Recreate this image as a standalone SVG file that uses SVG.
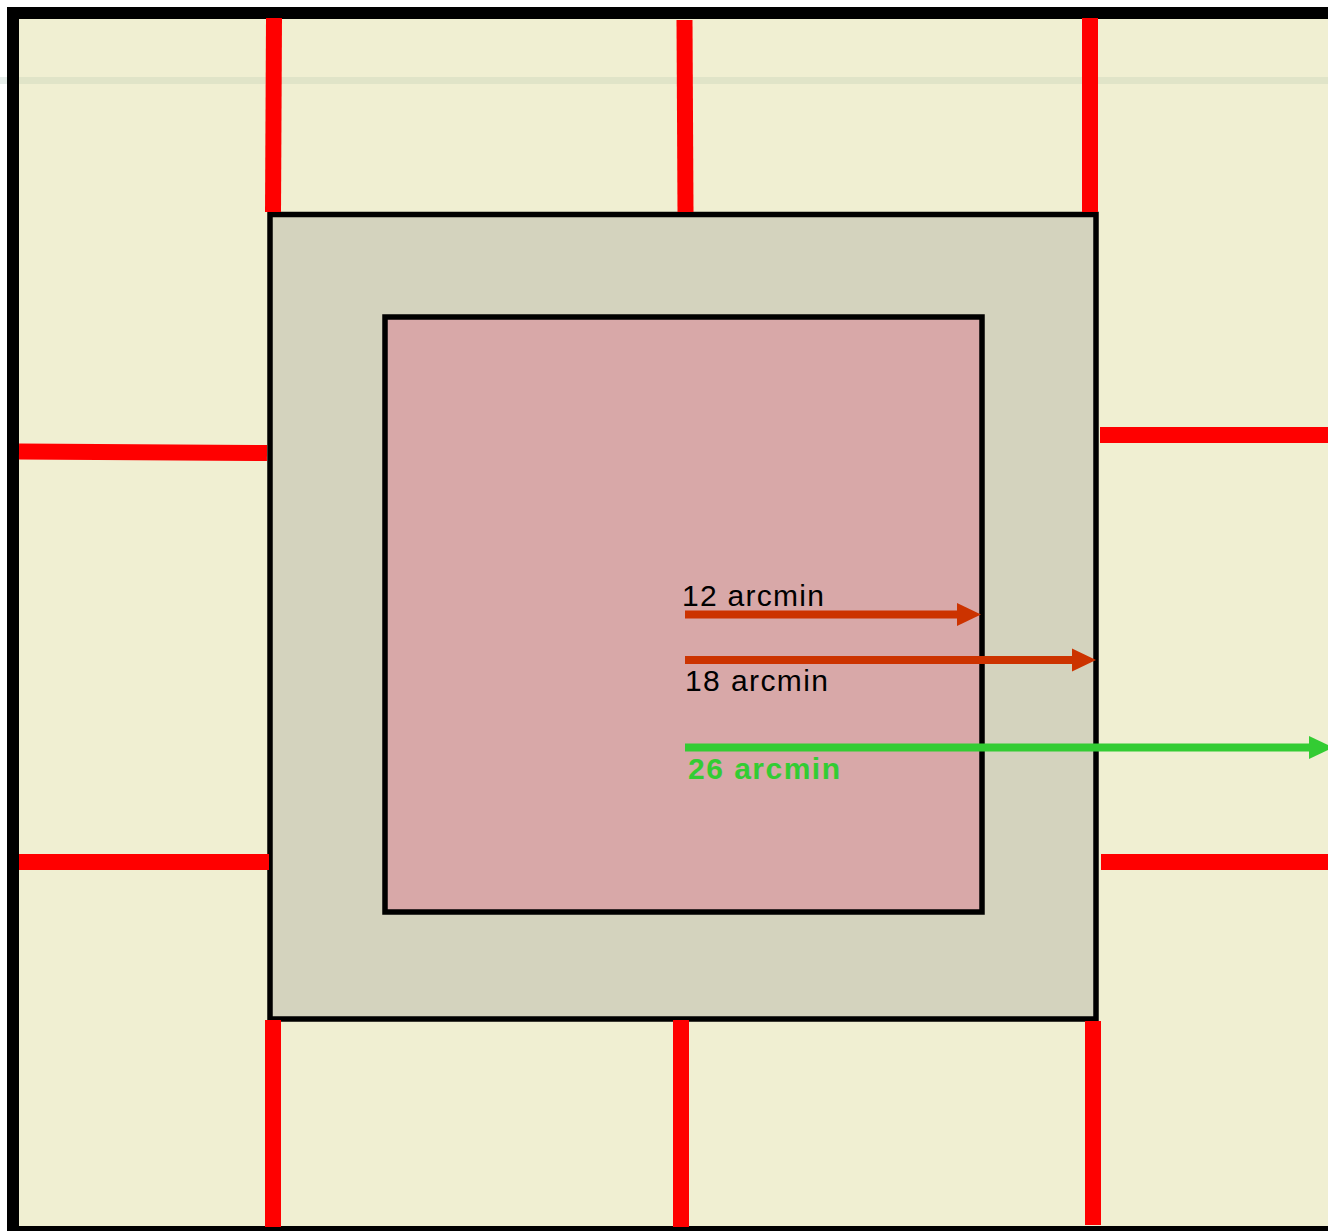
<svg xmlns="http://www.w3.org/2000/svg" width="1328" height="1231" viewBox="0 0 1328 1231">
<style>
.bar{stroke:#FF0000;stroke-width:16;fill:none}
.lbl{font-family:"Comic Sans MS","Liberation Sans",sans-serif;font-size:30px}
</style>
<defs>
<marker id="headR" markerUnits="userSpaceOnUse" markerWidth="24" markerHeight="24" refX="0" refY="12" orient="auto"><path d="M0,0.5 L24,12 L0,23.5 Z" fill="#CC3300"/></marker>
<marker id="headG" markerUnits="userSpaceOnUse" markerWidth="24" markerHeight="24" refX="0" refY="12" orient="auto"><path d="M0,0.5 L24,12 L0,23.5 Z" fill="#33CC33"/></marker>
</defs>
<rect width="1328" height="1231" fill="#FFFFFF"/>
<g id="frame">
<rect x="13" y="13" width="1330" height="1219" fill="#F0EFD2" stroke="#000" stroke-width="12"/>
<rect x="0" y="77" width="7" height="7" fill="#E6EEEA"/>
<rect x="19" y="77" width="1309" height="7" fill="#E0E4C8"/>
</g>
<g id="outer-square">
<rect x="270" y="214.5" width="826" height="804.5" fill="#D4D3BE" stroke="#000" stroke-width="5.5"/>
</g>
<g id="inner-square">
<rect x="385" y="317" width="597" height="595" fill="#D8A8A8" stroke="#000" stroke-width="5.5"/>
</g>
<g id="bars">
<line class="bar" x1="274" y1="18" x2="273" y2="212"/>
<line class="bar" x1="684.5" y1="20" x2="685.5" y2="212"/>
<line class="bar" x1="1090" y1="18" x2="1090" y2="212"/>
<line class="bar" x1="19" y1="451.5" x2="267" y2="453"/>
<line class="bar" x1="19" y1="862" x2="269" y2="862"/>
<line class="bar" x1="1100" y1="435" x2="1328" y2="435"/>
<line class="bar" x1="1101" y1="862" x2="1328" y2="862"/>
<line class="bar" x1="273" y1="1020" x2="273" y2="1227"/>
<line class="bar" x1="681" y1="1020" x2="681" y2="1227"/>
<line class="bar" x1="1093" y1="1021" x2="1093" y2="1225"/>
</g>
<g id="connectors">
<line x1="685" y1="614.5" x2="957" y2="614.5" stroke="#CC3300" stroke-width="8" marker-end="url(#headR)"/>
<line x1="685" y1="660" x2="1072" y2="660" stroke="#CC3300" stroke-width="8" marker-end="url(#headR)"/>
<line x1="685" y1="747.5" x2="1309" y2="747.5" stroke="#33CC33" stroke-width="8" marker-end="url(#headG)"/>
</g>
<g id="labels">
<text class="lbl" x="682" y="606" textLength="142" fill="#000">12 arcmin</text>
<text class="lbl" x="685" y="691" textLength="143" fill="#000">18 arcmin</text>
<text class="lbl" x="688" y="779" textLength="152" fill="#33CC33" font-weight="bold">26 arcmin</text>
</g>
</svg>
